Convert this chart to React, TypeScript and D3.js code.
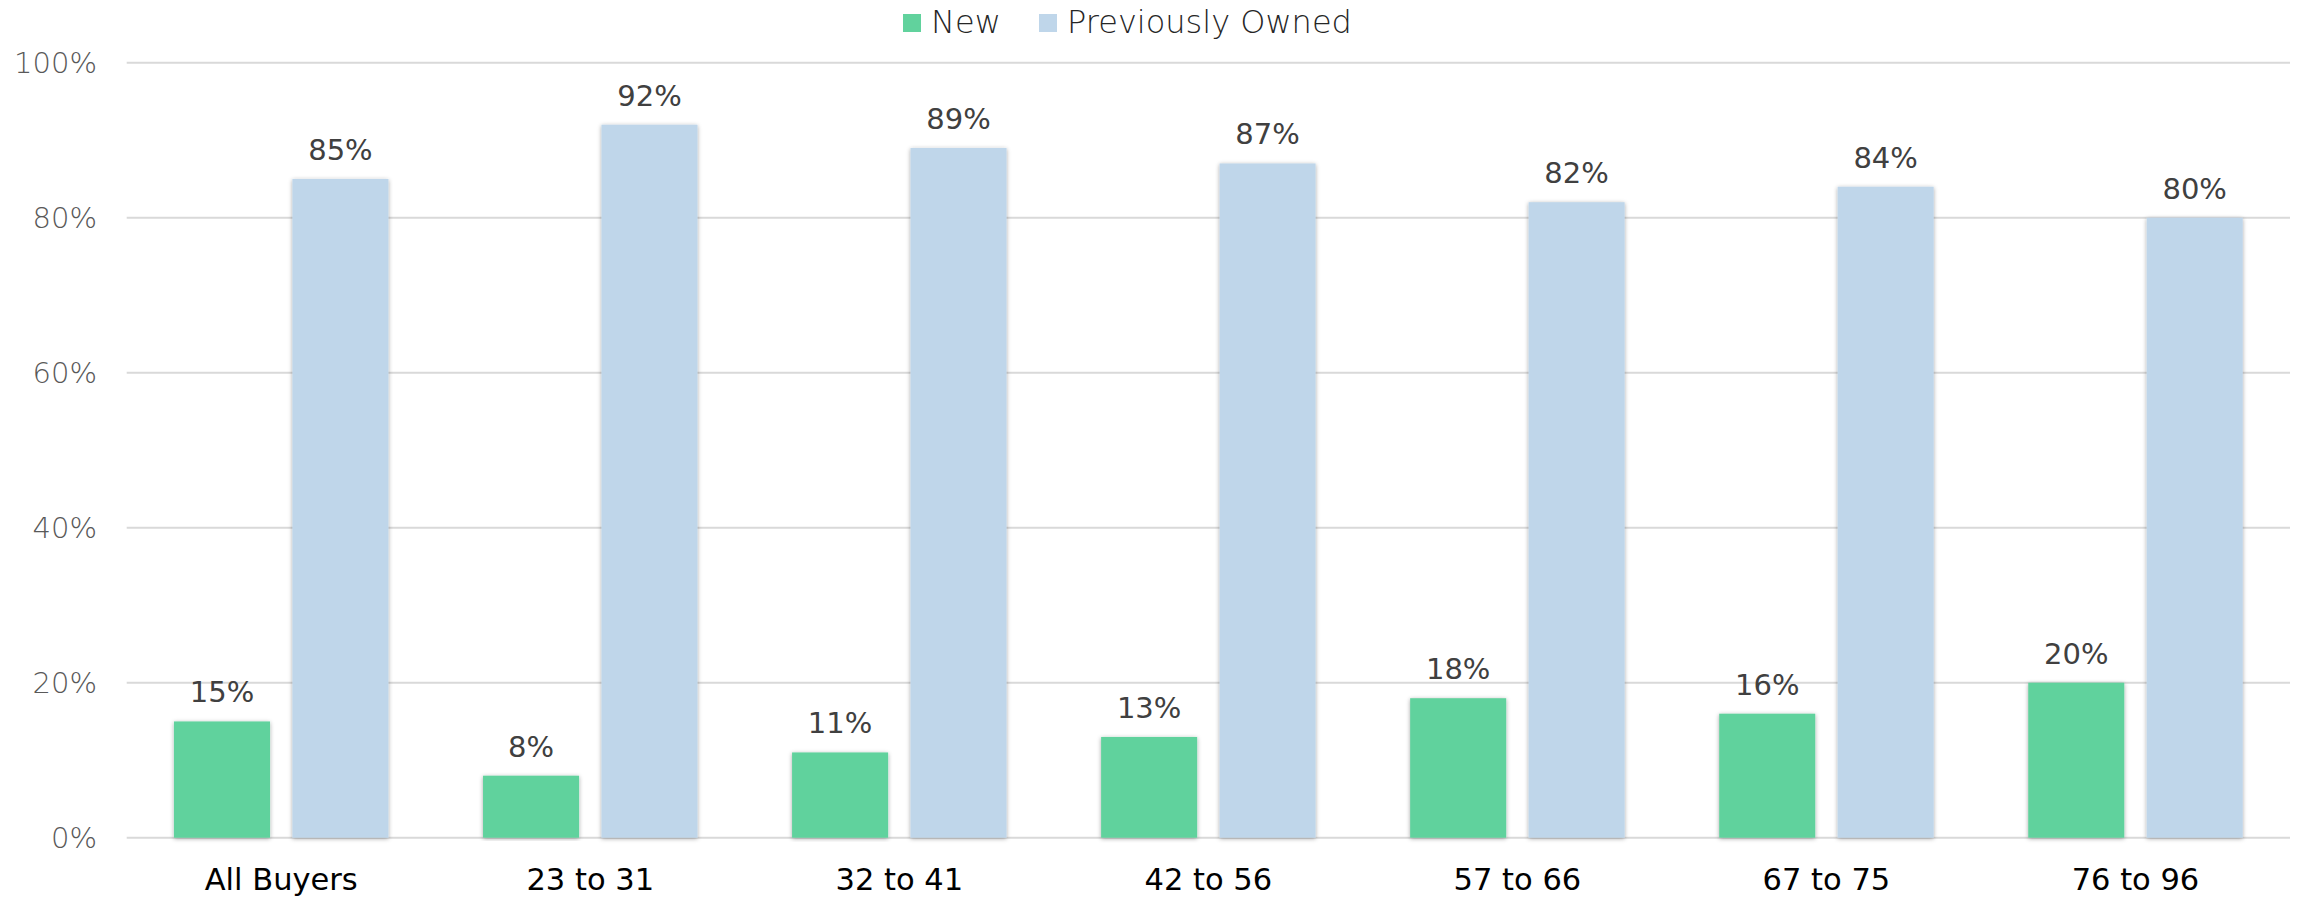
import React from "react";
import * as d3 from "d3";

const categories = ["All Buyers", "23 to 31", "32 to 41", "42 to 56", "57 to 66", "67 to 75", "76 to 96"];
const seriesNames = ["New", "Previously Owned"];
const newValues = [15, 8, 11, 13, 18, 16, 20];
const ownedValues = [85, 92, 89, 87, 82, 84, 80];
const yTicks = [0, 20, 40, 60, 80, 100];
const colors = ["#61D29D", "#BFD6EA"];

const W = 2298;
const H = 897;
const plotLeft = 126.7;
const plotRight = 2290;
const plotTop = 62.7;
const plotBottom = 837.7;
const FONT = "'DejaVu Sans', sans-serif";

export default function App() {
  const x0 = d3.scaleBand<string>().domain(categories).range([plotLeft, plotRight]).padding(0);
  const bw0 = x0.bandwidth();
  const pairW = bw0 * 0.694;
  const x1 = d3
    .scaleBand<string>()
    .domain(seriesNames)
    .range([(bw0 - pairW) / 2, (bw0 + pairW) / 2])
    .paddingInner(0.189)
    .paddingOuter(0);
  const y = d3.scaleLinear().domain([0, 100]).range([plotBottom, plotTop]);
  const seriesData = [newValues, ownedValues];

  const legendItems = [
    { name: seriesNames[0], sx: 903, tx: 931 },
    { name: seriesNames[1], sx: 1039, tx: 1067 },
  ];

  return (
    <div style={{ position: "fixed", left: 0, top: 0, width: W, height: H, overflow: "hidden" }}>
      <svg width={W} height={H} style={{ display: "block", background: "#fff" }} fontFamily={FONT}>
        <defs>
          <filter id="shadow" x="-20%" y="-5%" width="140%" height="110%">
            <feDropShadow dx="0" dy="1" stdDeviation="2" floodColor="#000" floodOpacity="0.35" />
          </filter>
        </defs>
        <rect x={0} y={0} width={W} height={H} fill="#fff" />
        {/* legend */}
        {legendItems.map((l, i) => (
          <g key={l.name}>
            <rect x={l.sx} y={14} width={18} height={18} fill={colors[i]} />
            <text x={l.tx} y={33} fontSize={32} fill="#262626" fontWeight={300}>
              {l.name}
            </text>
          </g>
        ))}
        {/* gridlines */}
        {yTicks.map((t) => (
          <g key={t}>
            <line x1={plotLeft} x2={plotRight} y1={y(t)} y2={y(t)} stroke="#D9D9D9" strokeWidth={2} />
            <text
              x={97}
              y={y(t)}
              dy="0.36em"
              textAnchor="end"
              fontSize={29}
              fontWeight={200}
              fill="#595959"
            >
              {t}%
            </text>
          </g>
        ))}
        {/* bars */}
        {categories.map((c, ci) => (
          <g key={c} transform={`translate(${x0(c)},0)`}>
            {seriesNames.map((s, si) => {
              const v = seriesData[si][ci];
              const bx = x1(s)!;
              const bw = x1.bandwidth();
              return (
                <g key={s}>
                  <rect
                    x={bx}
                    y={y(v)}
                    width={bw}
                    height={plotBottom - y(v)}
                    fill={colors[si]}
                    filter="url(#shadow)"
                  />
                  <text
                    x={bx + bw / 2}
                    y={y(v) - 19}
                    textAnchor="middle"
                    fontSize={29}
                    fill="#404040"
                  >
                    {v}%
                  </text>
                </g>
              );
            })}
            <text x={bw0 / 2} y={890} textAnchor="middle" fontSize={30.5} fill="#000">
              {c}
            </text>
          </g>
        ))}
      </svg>
    </div>
  );
}
